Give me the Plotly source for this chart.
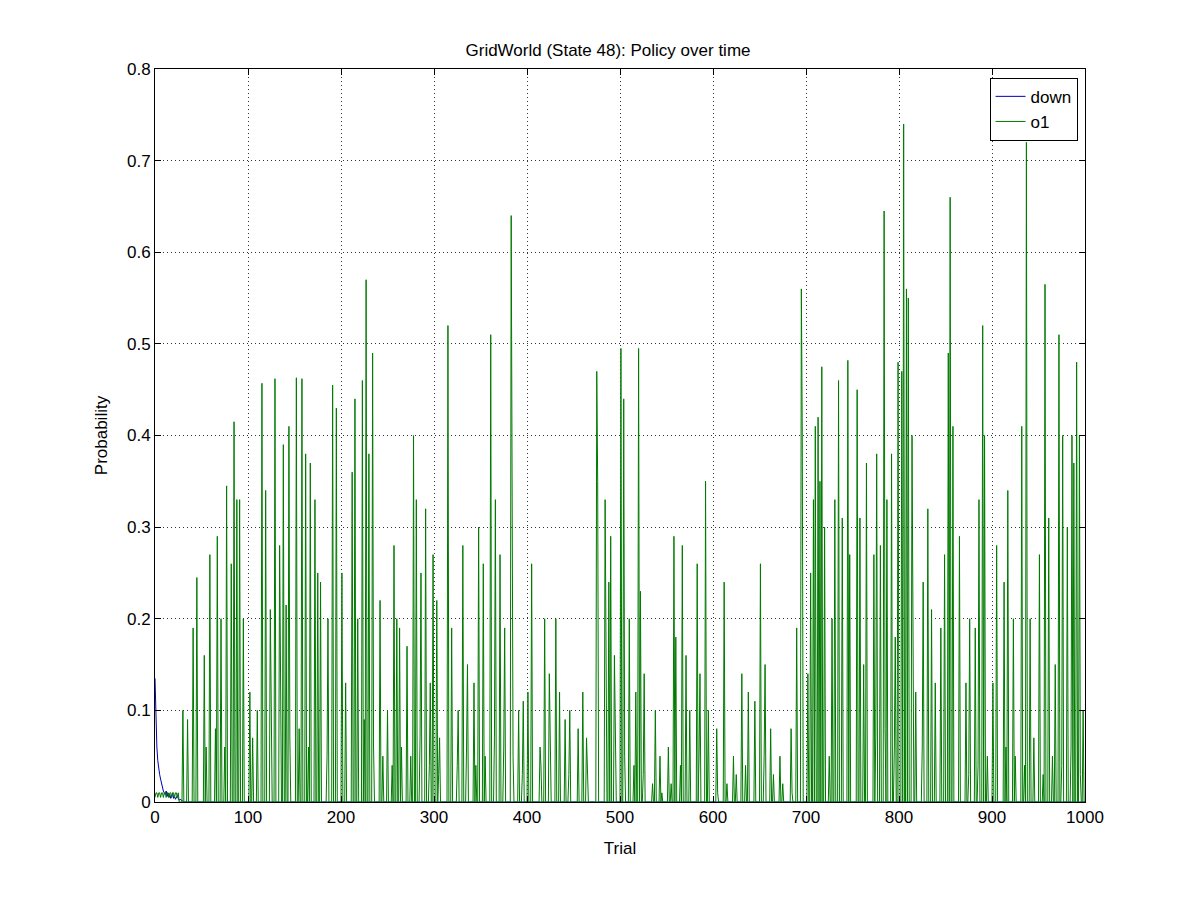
import plotly.graph_objects as go

# peaks of the o1 series: (trial, probability)
peak_trials = [30, 35, 41, 45, 53, 59, 67, 71, 77, 82, 85, 88, 91, 95, 102, 110, 115, 119, 124, 129,
               134, 138, 141, 144, 152, 158, 162, 167, 172, 175, 178, 186, 191, 195, 201, 205, 212, 215,
               218, 223, 227, 230, 234, 242, 250, 257, 260, 263, 271, 278, 281, 286, 291, 296, 299, 303,
               306, 315, 319, 326, 331, 336, 343, 348, 353, 361, 366, 371, 376, 383, 384, 391, 396, 401,
               405, 414, 419, 424, 431, 435, 441, 446, 455, 460, 464, 475, 476, 484, 488, 490, 494, 501,
               504, 510, 517, 520, 522, 526, 538, 543, 552, 558, 560, 567, 571, 575, 583, 586, 592, 595,
               604, 612, 622, 631, 638, 645, 651, 656, 662, 672, 684, 690, 695, 696, 702, 705, 708, 710,
               713, 715, 717, 720, 728, 731, 735, 739, 745, 747, 755, 758, 762, 765, 773, 776, 780, 784,
               787, 792, 796, 799, 803, 805, 808, 810, 814, 818, 826, 831, 835, 839, 845, 849, 853, 855,
               858, 865, 872, 876, 882, 886, 890, 892, 901, 905, 913, 917, 923, 932, 937, 941, 951, 957,
               961, 968, 972, 976, 981, 986, 988, 991, 994, 998]
peak_values = [0.10, 0.09, 0.19, 0.245, 0.16, 0.27, 0.29, 0.20, 0.345, 0.26, 0.415, 0.33, 0.33, 0.20,
               0.12, 0.10, 0.457, 0.34, 0.21, 0.462, 0.28, 0.39, 0.215, 0.41, 0.463, 0.462, 0.38, 0.37,
               0.33, 0.25, 0.24, 0.20, 0.455, 0.43, 0.25, 0.13, 0.36, 0.44, 0.20, 0.46, 0.57, 0.38, 0.49,
               0.22, 0.10, 0.28, 0.20, 0.19, 0.17, 0.40, 0.33, 0.25, 0.32, 0.13, 0.27, 0.22, 0.07, 0.52,
               0.19, 0.10, 0.28, 0.15, 0.13, 0.30, 0.26, 0.51, 0.33, 0.27, 0.19, 0.64, 0.33, 0.10, 0.11,
               0.12, 0.26, 0.06, 0.20, 0.14, 0.20, 0.12, 0.09, 0.10, 0.08, 0.12, 0.07, 0.47, 0.35, 0.33,
               0.24, 0.29, 0.16, 0.495, 0.44, 0.20, 0.12, 0.495, 0.23, 0.14, 0.10, 0.05, 0.06, 0.29, 0.18,
               0.28, 0.16, 0.10, 0.26, 0.14, 0.35, 0.10, 0.08, 0.24, 0.05, 0.14, 0.12, 0.11, 0.26, 0.15,
               0.08, 0.05, 0.08, 0.19, 0.56, 0.40, 0.14, 0.25, 0.33, 0.41, 0.42, 0.35, 0.475, 0.30, 0.20,
               0.33, 0.46, 0.31, 0.482, 0.27, 0.45, 0.31, 0.15, 0.37, 0.27, 0.38, 0.28, 0.645, 0.33, 0.38,
               0.18, 0.48, 0.47, 0.74, 0.56, 0.55, 0.40, 0.12, 0.24, 0.32, 0.21, 0.13, 0.19, 0.27, 0.49,
               0.66, 0.41, 0.29, 0.13, 0.20, 0.19, 0.33, 0.52, 0.40, 0.13, 0.28, 0.24, 0.34, 0.20, 0.41,
               0.72, 0.20, 0.27, 0.565, 0.31, 0.15, 0.51, 0.40, 0.30, 0.40, 0.37, 0.48, 0.40, 0.10]

# low background level, one value per block of 10 trials (placed mid-block)
floor_values = [0.01, 0.01, 0.01, 0.02, 0.05, 0.06, 0.08, 0.06, 0.09, 0.05,
                0.07, 0.08, 0.06, 0.09, 0.07, 0.08, 0.06, 0.07, 0.05, 0.06,
                0.07, 0.08, 0.09, 0.06, 0.05, 0.04, 0.06, 0.05, 0.07, 0.04,
                0.03, 0.05, 0.04, 0.06, 0.04, 0.05, 0.07, 0.06, 0.05, 0.03,
                0.02, 0.04, 0.05, 0.04, 0.03, 0.03, 0.02, 0.05, 0.06, 0.07,
                0.05, 0.04, 0.03, 0.02, 0.01, 0.02, 0.04, 0.03, 0.05, 0.02,
                0.01, 0.02, 0.03, 0.04, 0.03, 0.05, 0.03, 0.02, 0.01, 0.02,
                0.03, 0.06, 0.05, 0.07, 0.04, 0.06, 0.05, 0.07, 0.08, 0.06,
                0.09, 0.07, 0.06, 0.05, 0.04, 0.06, 0.05, 0.03, 0.04, 0.05,
                0.04, 0.06, 0.05, 0.04, 0.07, 0.03, 0.05, 0.04, 0.06, 0.03]

# the "down" action over the first trials
down_values = [0.135, 0.09, 0.06, 0.045, 0.035, 0.03, 0.025, 0.02, 0.015, 0.012,
               0.01, 0.008, 0.012, 0.006, 0.01, 0.005, 0.008, 0.004, 0.006, 0.01,
               0.004, 0.006, 0.003, 0.005, 0.007, 0.004, 0.002, 0.003, 0.002, 0.001]

trials = list(range(1001))
o1 = [0.0] * 1001
for i, v in enumerate(floor_values):
    o1[i * 10 + 5] = v
for t, v in zip(peak_trials, peak_values):
    o1[t] = v
# green starts small near zero
for i in range(25):
    o1[i] = 0.01 if i % 3 else 0.005
down = down_values + [0.0] * (1001 - len(down_values))

fig = go.Figure()
fig.add_trace(go.Scatter(x=trials, y=down, name='down', mode='lines',
                         line=dict(color='#0000b0', width=1)))
fig.add_trace(go.Scatter(x=trials, y=o1, name='o1', mode='lines',
                         line=dict(color='#007a00', width=1)))

axis_style = dict(showline=True, linecolor='black', mirror='ticks', ticks='inside',
                  ticklen=6, tickcolor='black', showgrid=True, gridcolor='#333333',
                  griddash='1px,3px', gridwidth=1, zeroline=False,
                  tickfont=dict(size=17, color='black'))
fig.update_xaxes(range=[0, 1000], dtick=100, title=dict(text='Trial', font=dict(size=17)), **axis_style)
fig.update_yaxes(range=[0, 0.8], title=dict(text='Probability', font=dict(size=17)), **axis_style)
fig.update_yaxes(tickvals=[0, 0.1, 0.2, 0.3, 0.4, 0.5, 0.6, 0.7, 0.8],
                 ticktext=['0', '0.1', '0.2', '0.3', '0.4', '0.5', '0.6', '0.7', '0.8'])

fig.update_layout(
    width=1200, height=900,
    title=dict(text='GridWorld (State 48): Policy over time', x=0.5, y=0.96,
               xanchor='center', font=dict(size=17, color='black')),
    font=dict(family='Liberation Sans, Arial, sans-serif', color='black'),
    plot_bgcolor='white', paper_bgcolor='white',
    margin=dict(l=147, r=123, t=61, b=106),
    legend=dict(x=0.992, y=0.988, xanchor='right', yanchor='top', bgcolor='white',
                bordercolor='black', borderwidth=1, font=dict(size=17)),
)

fig.write_html('out.html')
